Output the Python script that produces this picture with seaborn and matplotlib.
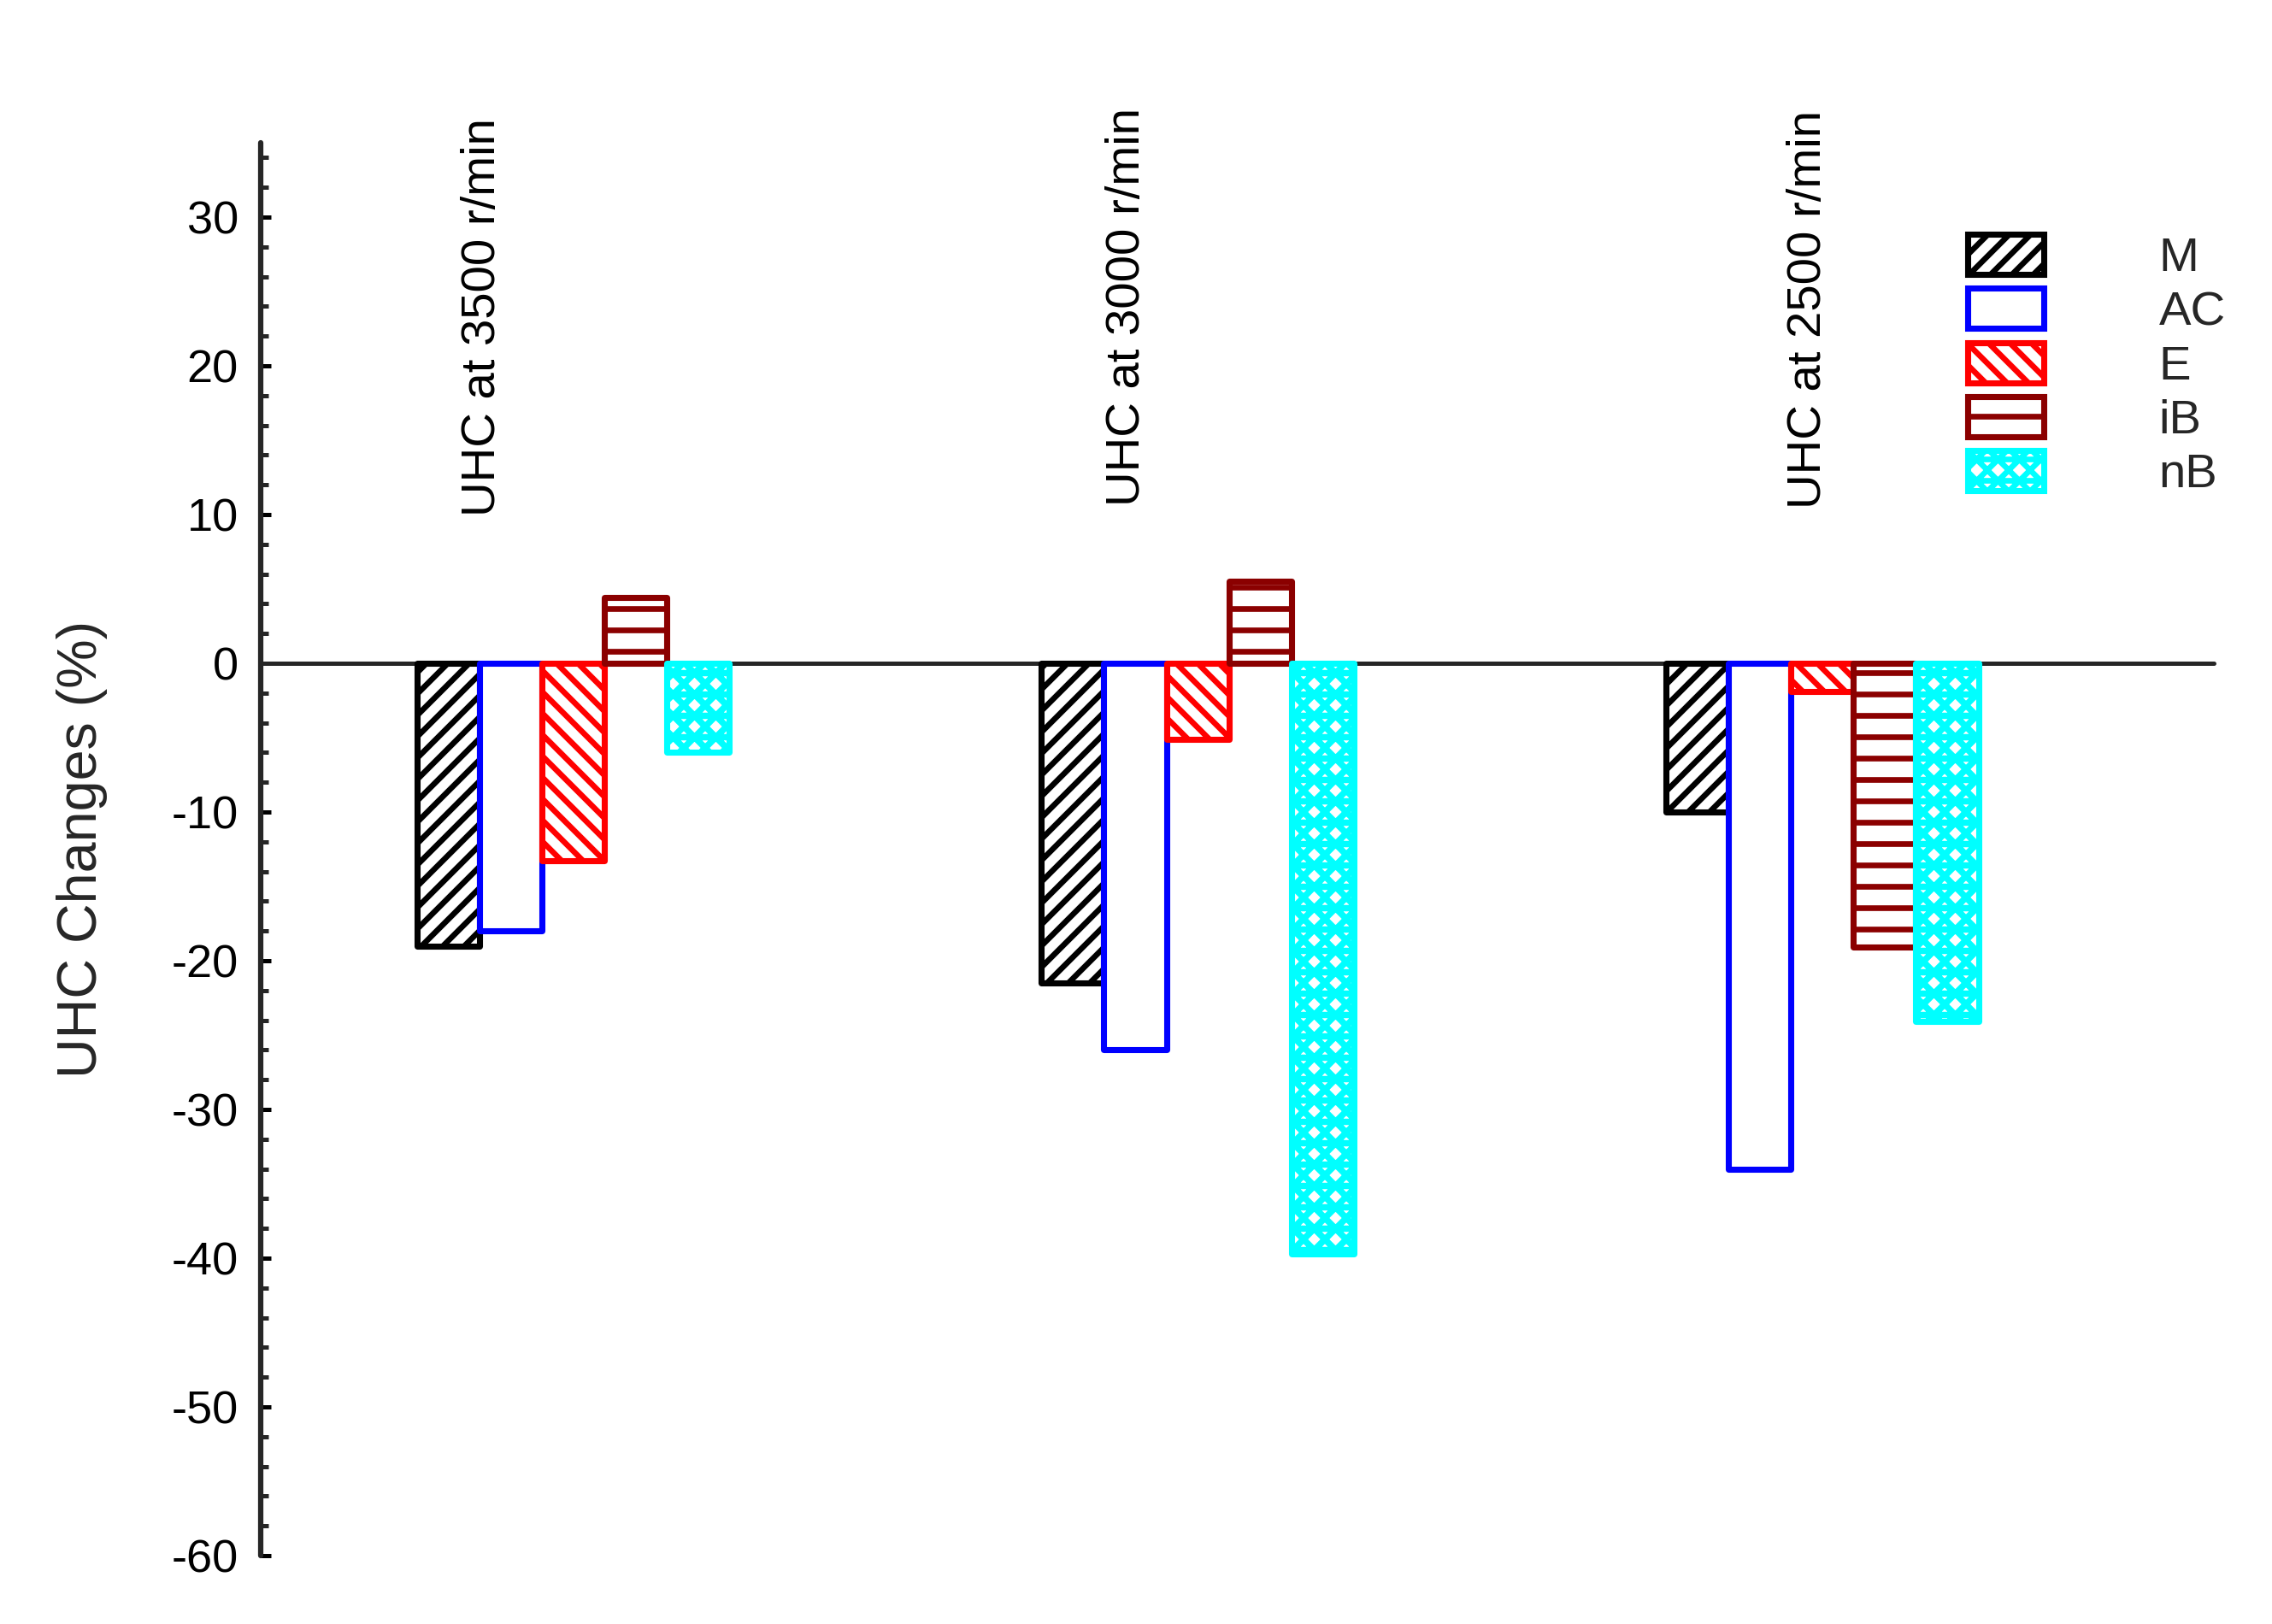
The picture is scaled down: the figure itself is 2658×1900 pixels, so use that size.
import numpy as np
import pandas as pd
import matplotlib
matplotlib.use("Agg")
import matplotlib.pyplot as plt
from matplotlib.patches import Patch
from matplotlib.ticker import MultipleLocator
import seaborn as sns

# ---- data ----
conditions = ["UHC at 3500 r/min", "UHC at 3000 r/min", "UHC at 2500 r/min"]
fuels = ["M", "AC", "E", "iB", "nB"]
M_vals = [-19.0, -21.5, -10.0]
AC_vals = [-18.0, -26.0, -34.0]
E_vals = [-13.3, -5.1, -1.9]
iB_vals = [4.4, 5.5, -19.1]
nB_vals = [-6.0, -39.7, -24.1]
yticks = [-60, -50, -40, -30, -20, -10, 0, 10, 20, 30]

series = {"M": M_vals, "AC": AC_vals, "E": E_vals, "iB": iB_vals, "nB": nB_vals}
rows = []
for f in fuels:
    for c, v in zip(conditions, series[f]):
        rows.append({"cond": c, "fuel": f, "val": v})
df = pd.DataFrame(rows)

colors = {"M": "#000000", "AC": "#0000FF", "E": "#FF0000", "iB": "#8B0000", "nB": "#00FFFF"}
hatches = {"M": "//", "AC": "", "E": "\\\\", "iB": "-", "nB": "xx-"}

sns.set_style("ticks")
plt.rcParams["font.family"] = ["Liberation Sans", "DejaVu Sans"]
plt.rcParams["axes.unicode_minus"] = False
plt.rcParams["hatch.linewidth"] = 3.2

DPI = 150
fig = plt.figure(figsize=(2658 / DPI, 1900 / DPI), dpi=DPI)
ax = fig.add_axes([305 / 2658, 80 / 1900, (2590 - 305) / 2658, 1653 / 1900])

sns.barplot(data=df, x="cond", y="val", hue="fuel", order=conditions,
            hue_order=fuels, width=0.5, gap=0, palette=colors,
            errorbar=None, legend=False, ax=ax)

EDGE_LW = 3.4
for f, cont in zip(fuels, ax.containers):
    for p in cont:
        p.set_facecolor("white")
        p.set_edgecolor(colors[f])
        p.set_hatch(hatches[f])
        p.set_linewidth(EDGE_LW)
        p.set_joinstyle("round")
        p.set_zorder(3)
        if hasattr(p, "set_hatch_linewidth"):
            p.set_hatch_linewidth(3.6 if f == "nB" else 3.2)

ax.set_xlim(-0.5, 2.627)
ax.set_ylim(-60, 35)
ax.set_yticks(yticks)
ax.yaxis.set_minor_locator(MultipleLocator(2))
ax.tick_params(axis="y", which="major", direction="in", length=5.8, width=2.4,
               labelsize=26, pad=12.5, colors="black")
ax.tick_params(axis="y", which="minor", direction="in", length=4.3, width=2.4)
ax.tick_params(axis="x", length=0, labelbottom=False)
ax.set_xlabel("")
ax.set_ylabel("UHC Changes (%)", fontsize=31, labelpad=36)

for s in ["top", "right"]:
    ax.spines[s].set_visible(False)
ax.spines["left"].set_linewidth(3.0)
ax.spines["left"].set_capstyle("round")
ax.spines["bottom"].set_position(("data", 0))
ax.spines["bottom"].set_linewidth(2.4)
ax.spines["bottom"].set_capstyle("round")
ax.spines["bottom"].set_zorder(1)

# rotated condition labels
label_x = [-0.144, 0.888, 1.978]
label_y = [9.9, 10.6, 10.4]
for c, lx, ly in zip(conditions, label_x, label_y):
    ax.text(lx, ly, c, rotation=90, ha="center", va="bottom", fontsize=27,
            color="black")

# legend
handles = []
for f in fuels:
    h = Patch(facecolor="white", edgecolor=colors[f], hatch=hatches[f],
              linewidth=EDGE_LW, label=f)
    h.set_joinstyle("round")
    handles.append(h)
fig.legend(handles=handles, loc="upper left", bbox_to_anchor=(0.866, 0.8558),
           frameon=False, fontsize=27, handlelength=1.58, handleheight=0.91,
           handletextpad=2.4, labelspacing=0.15, borderpad=0, borderaxespad=0)

fig.savefig("out.png", dpi=DPI, facecolor="white")
